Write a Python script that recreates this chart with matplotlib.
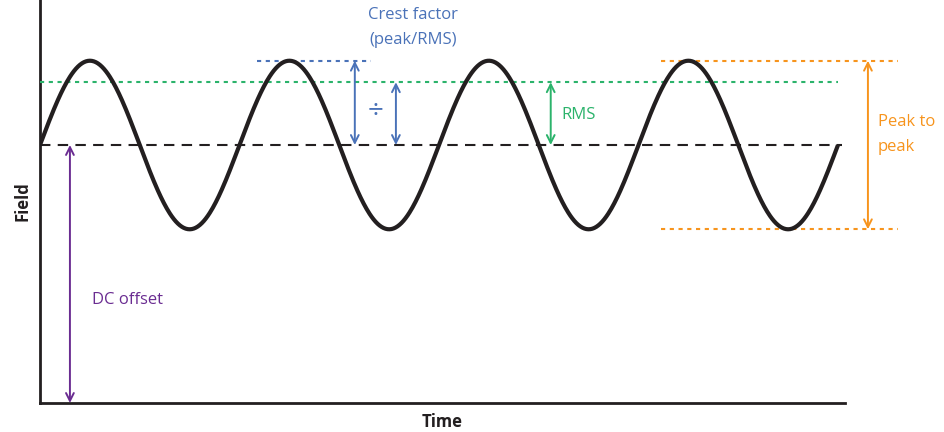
import numpy as np
import matplotlib
matplotlib.use("Agg")
import matplotlib.pyplot as plt

plt.rcParams['font.family'] = ['Open Sans', 'DejaVu Sans']

# --- values ---
dc_offset = 3.0          # field level of the DC line
amplitude = 0.98         # peak above DC
rms_level = 0.73         # RMS above DC
n_periods = 4            # full cycles of the wave
labels = {"x": "Time", "y": "Field",
          "crest": "Crest factor\n(peak/RMS)", "rms": "RMS",
          "p2p": "Peak to\npeak", "dc": "DC offset"}

BLACK = "#231f20"
GREEN = "#2bb36b"
BLUE = "#4a72b8"
ORANGE = "#f7941d"
PURPLE = "#6a2c91"

fig = plt.figure(figsize=(9.45, 4.32), dpi=100)
ax = fig.add_axes([40/945, 29/432, 805/945, 403/432])

t = np.linspace(0, n_periods, 800)
wave = dc_offset + amplitude * np.sin(2 * np.pi * t)
ax.plot(t, wave, color=BLACK, lw=3.0, solid_capstyle='butt', zorder=5)

ax.set_xlim(0, 805/199.5)
ax.set_ylim(0, 403/86)

peak = dc_offset + amplitude
trough = dc_offset - amplitude
rms = dc_offset + rms_level

DOT = (0, (2, 2.2))
# DC dashed line
ax.plot([0, 4.02], [dc_offset, dc_offset], color=BLACK, lw=1.5, ls=(0, (5, 3.5)), zorder=3)
# RMS dotted line
ax.plot([0, 4.0], [rms, rms], color=GREEN, lw=1.5, ls=DOT, zorder=3)
# crest factor peak dotted line
ax.plot([1.09, 1.66], [peak, peak], color=BLUE, lw=1.5, ls=DOT, zorder=3)
# peak-to-peak dotted lines
for yv in (peak, trough):
    ax.plot([3.115, 4.3], [yv, yv], color=ORANGE, lw=1.5, ls=DOT,
            zorder=3, clip_on=False)

def arrow(x, y0, y1, color):
    ax.annotate("", xy=(x, y0), xytext=(x, y1),
                arrowprops=dict(arrowstyle="<->", color=color, lw=1.4,
                                mutation_scale=14, shrinkA=0, shrinkB=0),
                annotation_clip=False, zorder=4)

# crest factor arrows
arrow(1.578, peak, dc_offset, BLUE)
arrow(1.784, rms, dc_offset, BLUE)
ax.text(1.683, dc_offset + 0.39, "÷", color=BLUE, fontsize=20, ha="center", va="center")
ax.text(1.87, 4.37, labels["crest"], color=BLUE, fontsize=12, ha="center", va="center",
        linespacing=1.75)
# RMS arrow
arrow(2.56, rms, dc_offset, GREEN)
ax.text(2.615, dc_offset + 0.35, labels["rms"], color=GREEN, fontsize=12, ha="left", va="center")
# peak to peak arrow
arrow(4.15, peak, trough, ORANGE)
ax.text(4.2, dc_offset + 0.12, labels["p2p"], color=ORANGE, fontsize=12, ha="left",
        va="center", linespacing=1.75, clip_on=False)
# DC offset arrow
arrow(0.15, dc_offset, 0, PURPLE)
ax.text(0.26, 1.2, labels["dc"], color=PURPLE, fontsize=12, ha="left", va="center")

for s in ("top", "right"):
    ax.spines[s].set_visible(False)
for s in ("left", "bottom"):
    ax.spines[s].set_linewidth(2)
    ax.spines[s].set_color(BLACK)
ax.set_xticks([])
ax.set_yticks([])
ax.set_xlabel(labels["x"], fontsize=12, fontweight="bold", color=BLACK, labelpad=7)
ax.set_ylabel(labels["y"], fontsize=12, fontweight="bold", color=BLACK, labelpad=6)

fig.savefig("out.png", dpi=100)
